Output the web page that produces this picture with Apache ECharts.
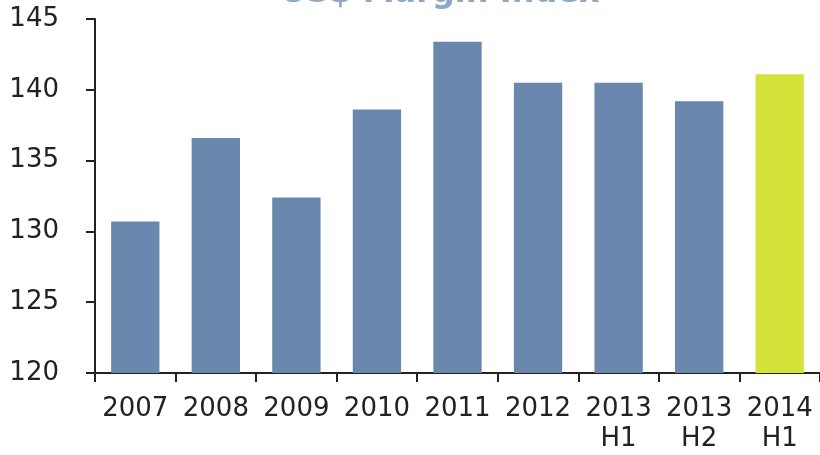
<!DOCTYPE html>
<html>
<head>
<meta charset="utf-8">
<script src="https://cdn.jsdelivr.net/npm/echarts@6/dist/echarts.min.js"></script>
<style>
  html, body { margin: 0; padding: 0; background: #fff; }
  #chart { width: 820px; height: 455px; }
</style>
</head>
<body>
<div id="chart"></div>
<script>
// Period labels (two-line where a half-year is given)
const categories = ['2007', '2008', '2009', '2010', '2011', '2012', '2013\nH1', '2013\nH2', '2014\nH1'];
// Margin index values per period
const values = [130.7, 136.6, 132.4, 138.6, 143.4, 140.5, 140.5, 139.2, 141.1];
// Index of the highlighted (latest) period
const highlightIndex = 8;
const yTicks = { min: 120, max: 145, interval: 5 };

const barBlue = '#6a88ad';
const barGreen = '#d4e23a';
const textColor = '#222222';
const fontFamily = '"DejaVu Sans", Verdana, sans-serif';

const chart = echarts.init(document.getElementById('chart'), null, { renderer: 'canvas' });

chart.setOption({
  animation: false,
  backgroundColor: '#ffffff',
  title: {
    text: 'US$ Margin Index',
    left: 440,
    top: -22,
    padding: 0,
    textAlign: 'center',
    textStyle: {
      fontFamily: fontFamily,
      fontSize: 32,
      fontWeight: 'bold',
      color: '#8fa8c8'
    }
  },
  grid: {
    left: 95,
    right: -2,
    top: 19,
    bottom: 82,
    containLabel: false
  },
  xAxis: {
    type: 'category',
    data: categories,
    axisLine: { show: true, lineStyle: { color: '#222', width: 2 } },
    axisTick: { show: true, alignWithLabel: false, length: 9, lineStyle: { color: '#222', width: 2 } },
    axisLabel: {
      color: textColor,
      fontFamily: fontFamily,
      fontSize: 26,
      lineHeight: 30,
      margin: 21,
      interval: 0
    }
  },
  yAxis: {
    type: 'value',
    min: yTicks.min,
    max: yTicks.max,
    interval: yTicks.interval,
    splitLine: { show: false },
    axisLine: { show: true, lineStyle: { color: '#222', width: 2 } },
    axisTick: { show: true, inside: false, length: 9, lineStyle: { color: '#222', width: 2 } },
    axisLabel: {
      color: textColor,
      fontFamily: fontFamily,
      fontSize: 26,
      margin: 36
    }
  },
  series: [{
    type: 'bar',
    barWidth: '60%',
    data: values.map((v, i) => ({
      value: v,
      itemStyle: { color: i === highlightIndex ? barGreen : barBlue }
    }))
  }]
});
</script>
</body>
</html>
